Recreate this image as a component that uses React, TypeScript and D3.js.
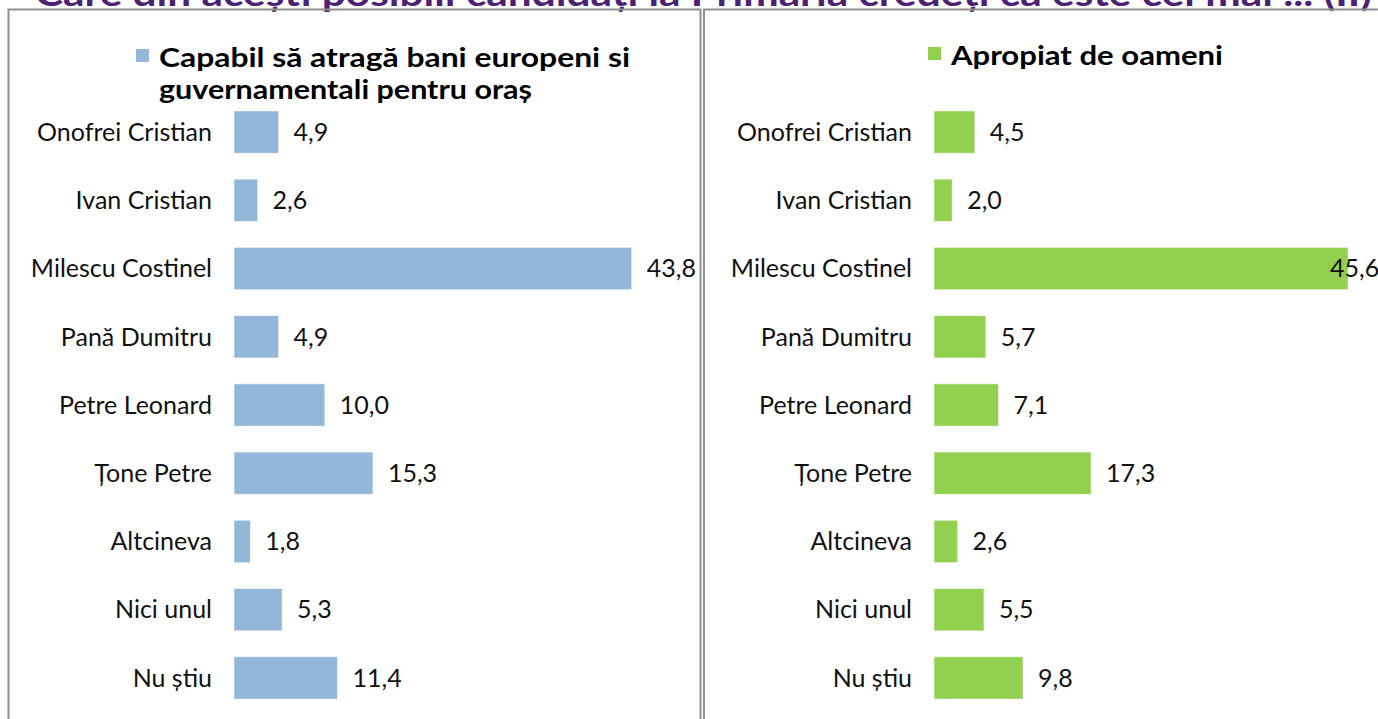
import React from 'react';
import * as d3 from 'd3';

const categories = [
  'Onofrei Cristian',
  'Ivan Cristian',
  'Milescu Costinel',
  'Pană Dumitru',
  'Petre Leonard',
  'Țone Petre',
  'Altcineva',
  'Nici unul',
  'Nu știu',
];
const capabilValues = [4.9, 2.6, 43.8, 4.9, 10.0, 15.3, 1.8, 5.3, 11.4];
const apropiatValues = [4.5, 2.0, 45.6, 5.7, 7.1, 17.3, 2.6, 5.5, 9.8];
const capabilLegend = ['Capabil să atragă bani europeni si', 'guvernamentali pentru oraș'];
const apropiatLegend = ['Apropiat de oameni'];
const title = 'Care din acești posibili candidați la Primăria credeți că este cel mai ... (II)';

const W = 1378;
const H = 719;
const FONT = 'Lato, "Open Sans", sans-serif';

const fmt = (v: number) => d3.format('.1f')(v).replace('.', ',');

const y = d3
  .scaleBand<string>()
  .domain(categories)
  .range([98, 712])
  .paddingInner(0.38)
  .paddingOuter(0.19);

type PanelProps = {
  dx: number;
  values: number[];
  color: string;
  legend: string[];
  legendWidths: number[];
  legendX: number;
  legendY: number;
  clipRight: number;
};

const Panel = ({ dx, values, color, legend, legendWidths, legendX, legendY, clipRight }: PanelProps) => {
  const x = d3.scaleLinear().domain([0, 50]).range([dx + 234, dx + 688]);
  return (
    <g>
      <rect x={legendX} y={legendY - 18} width={13} height={13} fill={color} />
      {legend.map((l, i) => (
        <text
          key={l}
          x={legendX + 23}
          y={legendY + i * 32}
          fontFamily={FONT}
          fontWeight="bold"
          fontSize={27}
          fill="#000"
          textLength={legendWidths[i]}
          lengthAdjust="spacingAndGlyphs"
        >
          {l}
        </text>
      ))}
      {categories.map((c, i) => {
        const v = values[i];
        const by = y(c)!;
        const end = x(v);
        const label = fmt(v);
        const lw = label.length * 12.5;
        const lx = Math.min(end + 15, clipRight - lw);
        return (
          <g key={c}>
            <text
              x={dx + 212}
              y={by + y.bandwidth() / 2}
              dy="0.35em"
              textAnchor="end"
              fontFamily={FONT}
              fontSize={25}
              fill="#111"
            >
              {c}
            </text>
            <rect
              x={x(0)}
              y={by}
              width={end - x(0)}
              height={y.bandwidth()}
              fill={color}
              stroke="#ffffff"
              strokeOpacity={0.5}
              strokeWidth={1}
            />
            <text
              x={lx}
              y={by + y.bandwidth() / 2}
              dy="0.35em"
              fontFamily={FONT}
              fontSize={25}
              fill="#111"
            >
              {label}
            </text>
          </g>
        );
      })}
    </g>
  );
};

export default function App() {
  return (
    <svg
      width={W}
      height={H}
      style={{ position: 'fixed', left: 0, top: 0, background: '#fff' }}
    >
      <rect x={0} y={0} width={W} height={H} fill="#fff" />
      <text
        x={35}
        y={6}
        fontFamily={FONT}
        fontWeight="bold"
        fontSize={34}
        fill="#4b2173"
        textLength={1337}
        lengthAdjust="spacingAndGlyphs"
      >
        {title}
      </text>
      <path d={`M8.5,${H} V9.5 H700.5 V${H}`} fill="none" stroke="#8f8f8f" strokeWidth={2} />
      <path d={`M704,${H} V9.5 H${W}`} fill="none" stroke="#8f8f8f" strokeWidth={2} />
      <Panel
        dx={0}
        values={capabilValues}
        color="#93b7d9"
        legend={capabilLegend}
        legendWidths={[471, 373]}
        legendX={136}
        legendY={67}
        clipRight={700}
      />
      <Panel
        dx={700}
        values={apropiatValues}
        color="#92d050"
        legend={apropiatLegend}
        legendWidths={[272]}
        legendX={928}
        legendY={65}
        clipRight={1380}
      />
    </svg>
  );
}
